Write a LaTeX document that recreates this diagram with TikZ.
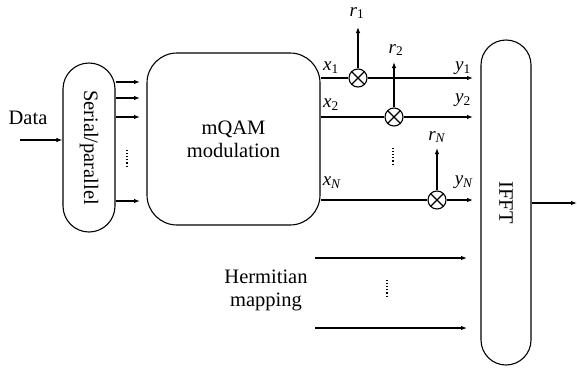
\documentclass[tikz,border=0pt]{standalone}
\usepackage{fontspec}
\setmainfont{Liberation Serif}
\usetikzlibrary{arrows.meta}
\newcommand{\vlab}[2]{\textit{#1}\textsubscript{#2}}
\begin{document}
\begin{tikzpicture}
		[x=1pt,y=-1pt,
		line width=1.1pt,
		>={Latex[length=6pt,width=4.5pt]},
		every node/.style={font=\fontsize{20.5}{24}\selectfont},
		block/.style={draw,minimum width=52pt,inner sep=0pt},
		mul/.style={draw,circle,minimum size=18pt,inner sep=0pt,
			path picture={\draw (path picture bounding box.north west) -- (path picture bounding box.south east)
				(path picture bounding box.north east) -- (path picture bounding box.south west);}},
		lab/.style={font=\fontsize{19}{21}\selectfont,inner sep=0pt}]
		\useasboundingbox (0,0) rectangle (577,367);
		% blocks
		\node[block,rounded corners=26pt,minimum height=169pt] (sp) at (89,147.5)
			{\rotatebox{-90}{Serial/parallel}};
		\node[block,rounded corners=30pt,minimum width=173pt,minimum height=172pt,align=center] (qam) at (233.5,139)
			{mQAM\\[-1pt]modulation};
		\node[block,rounded corners=25pt,minimum width=50pt,minimum height=325pt] (ifft) at (506,202.5)
			{\rotatebox{-90}{IFFT}};
		\node[inner sep=0pt] (data) at (28,118) {Data};
		\node[align=center,inner sep=0pt] (herm) at (266,290) {Hermitian\\[-1pt]mapping};
		% multipliers
		\node[mul] (mul1) at (358,78) {};
		\node[mul] (mul2) at (394,117) {};
		\node[mul] (mulN) at (437,200) {};
		% input
		\coordinate (in) at (20,140);
		\draw[->] (in) -- (sp.west |- in);
		\foreach \y in {82,98,117,201}
			\draw[->] (sp.east |- 0,\y) -- (140,\y);
		\draw[dotted] (127,150) -- (127,168);
		% subcarrier branches
		\draw (qam.east |- mul1) -- (mul1.west);
		\draw[->] (mul1.east) -- (473,78);
		\draw (qam.east |- mul2) -- (mul2.west);
		\draw[->] (mul2.east) -- (473,117);
		\draw (qam.east |- mulN) -- (mulN.west);
		\draw[->] (mulN.east) -- (473,200);
		\draw[->] (mul1.north) -- (358,27);
		\draw[->] (mul2.north) -- (394,62);
		\draw[->] (mulN.north) -- (437,148);
		\draw[dotted] (393,148) -- (393,165);
		% labels
		\node[lab] (lx1) at (331,68) {\vlab{x}{1}};
		\node[lab] (lx2) at (331,105) {\vlab{x}{2}};
		\node[lab] (lxN) at (332,183) {\vlab{x}{\textit{N}}};
		\node[lab] (lr1) at (357,13) {\vlab{r}{1}};
		\node[lab] (lr2) at (396,50) {\vlab{r}{2}};
		\node[lab] (lrN) at (437,137) {\vlab{r}{\textit{N}}};
		\node[lab] (ly1) at (463,68) {\vlab{y}{1}};
		\node[lab] (ly2) at (463,100) {\vlab{y}{2}};
		\node[lab] (lyN) at (464,182) {\vlab{y}{\textit{N}}};
		% hermitian part
		\draw[->] (315,258) -- (467,258);
		\draw[->] (315,328) -- (467,328);
		\draw[dotted] (387,280) -- (387,297);
		% output
		\draw[->] (ifft.east |- 0,203) -- (577,203);
	\end{tikzpicture}
\end{document}
